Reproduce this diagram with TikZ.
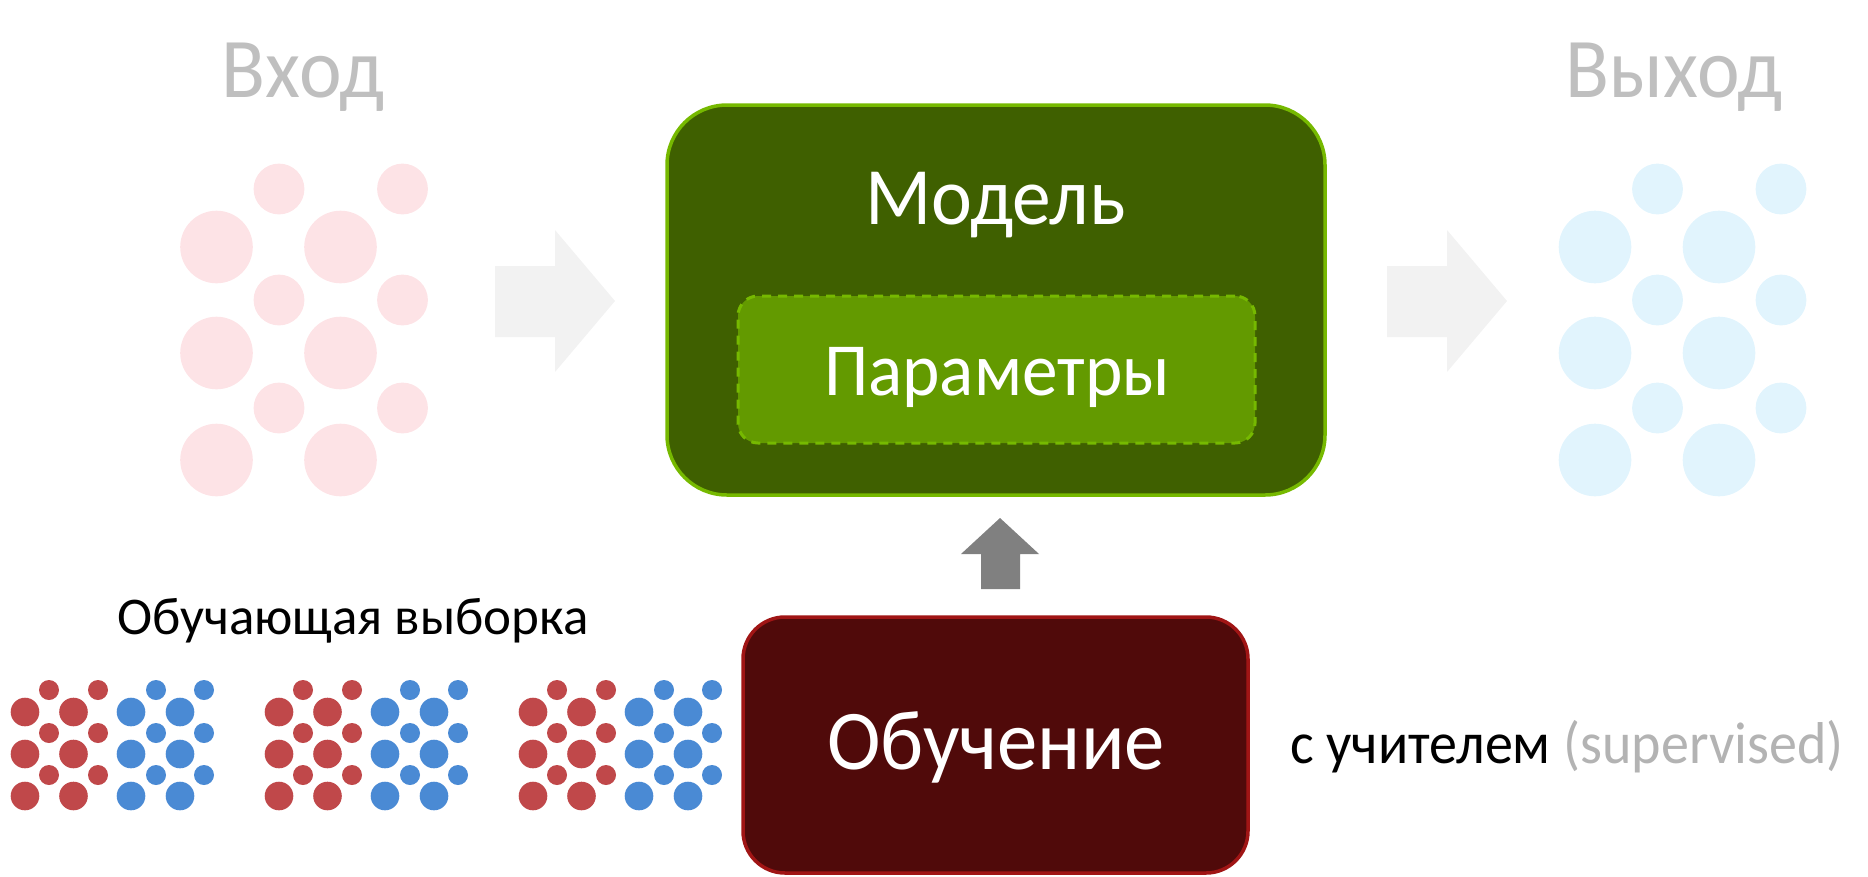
\documentclass[tikz,border=0pt]{standalone}
\usepackage{fontspec}
\setmainfont{Carlito}
\newfontfamily\narrowfont{Carlito}[FakeStretch=0.95]
\usetikzlibrary{positioning}
\definecolor{ingray}{HTML}{BFBFBF}
\definecolor{supgray}{HTML}{B3B3B3}
\definecolor{pinkdot}{HTML}{FDE3E6}
\definecolor{skydot}{HTML}{E1F4FD}
\definecolor{reddot}{HTML}{C0484A}
\definecolor{bluedot}{HTML}{4A8AD4}
\definecolor{modelfill}{HTML}{3F6000}
\definecolor{modeledge}{HTML}{76B900}
\definecolor{paramfill}{HTML}{639A00}
\definecolor{trainfill}{HTML}{500A0A}
\definecolor{trainedge}{HTML}{A01515}
\definecolor{flowgray}{HTML}{F2F2F2}
\definecolor{learngray}{HTML}{808080}
\tikzset{
    boxlabel/.style={inner sep=0pt, anchor=base, text=white},
    headlabel/.style={inner sep=0pt, anchor=base, text=ingray, font=\narrowfont\fontsize{85}{100}\selectfont},
    modelbox/.style={draw=modeledge, line width=3.5pt, fill=modelfill, rounded corners=60pt},
    parambox/.style={draw=modeledge, line width=3pt, dash pattern=on 9pt off 7pt, fill=paramfill, rounded corners=20pt},
    trainbox/.style={draw=trainedge, line width=3.5pt, fill=trainfill, rounded corners=42pt}
}

\begin{document}
\begin{tikzpicture}[x=1pt,y=-1pt]
\useasboundingbox (0,0) rectangle (1868,876);

% input and output samples
\foreach \ox/\col in {216.5/pinkdot, 1595/skydot}{
    \foreach \y in {247,353,460}
        \foreach \dx in {0,124}
            \fill[\col] (\ox+\dx,\y) circle (36.3);
    \foreach \y in {189,300,408}
        \foreach \dx in {62.5,186}
            \fill[\col] (\ox+\dx,\y) circle (25.4);
}

% flow arrows
\foreach \dx in {0,892}
    \fill[flowgray] (495+\dx,266) -- (555+\dx,266) -- (555+\dx,230) -- (615+\dx,301)
        -- (555+\dx,372) -- (555+\dx,337) -- (495+\dx,337) -- cycle;

\node[headlabel] (input) at (303,97) {Вход};
\node[headlabel] (output) at (1674,97) {Выход};

% model
\node[modelbox, minimum width=658pt, minimum height=390pt] (model) at (996,300) {};
\node[boxlabel, font=\narrowfont\fontsize{81.5}{98}\selectfont] (modeltext) at (995.5,224) {Модель};
\node[parambox, minimum width=517pt, minimum height=147pt] (params) at (996.5,369.5) {};
\node[boxlabel, font=\narrowfont\fontsize{75}{90}\selectfont] (paramstext) at (997,395) {Параметры};

% training
\node[trainbox, minimum width=505pt, minimum height=256pt] (train) at (995.5,745) {};
\node[boxlabel, font=\narrowfont\fontsize{85}{100}\selectfont] (traintext) at (996,769) {Обучение};
\fill[learngray] (981,589) -- (981,554) -- (961,554) -- (1000,518) -- (1039,554)
    -- (1020,554) -- (1020,589) -- cycle;

% training set
\node[inner sep=0pt, anchor=base west, font=\fontsize{53}{64}\selectfont] (trainset) at (117,634) {Обучающая выборка};
\foreach \k in {0,1,2}{
    \foreach \y in {712,754,796}{
        \foreach \dx in {0,48.5}
            \fill[reddot] (25+254*\k+\dx,\y) circle (14.3);
        \foreach \dx in {106,155}
            \fill[bluedot] (25+254*\k+\dx,\y) circle (14.3);
    }
    \foreach \y in {690,733,775}{
        \foreach \dx in {24,73}
            \fill[reddot] (25+254*\k+\dx,\y) circle (10);
        \foreach \dx in {131,179}
            \fill[bluedot] (25+254*\k+\dx,\y) circle (10);
    }
}

\node[inner sep=0pt, anchor=base west, font=\narrowfont\fontsize{59}{70}\selectfont] (kind) at (1290,763)
    {с учителем \textcolor{supgray}{(supervised)}};
\end{tikzpicture}
\end{document}
